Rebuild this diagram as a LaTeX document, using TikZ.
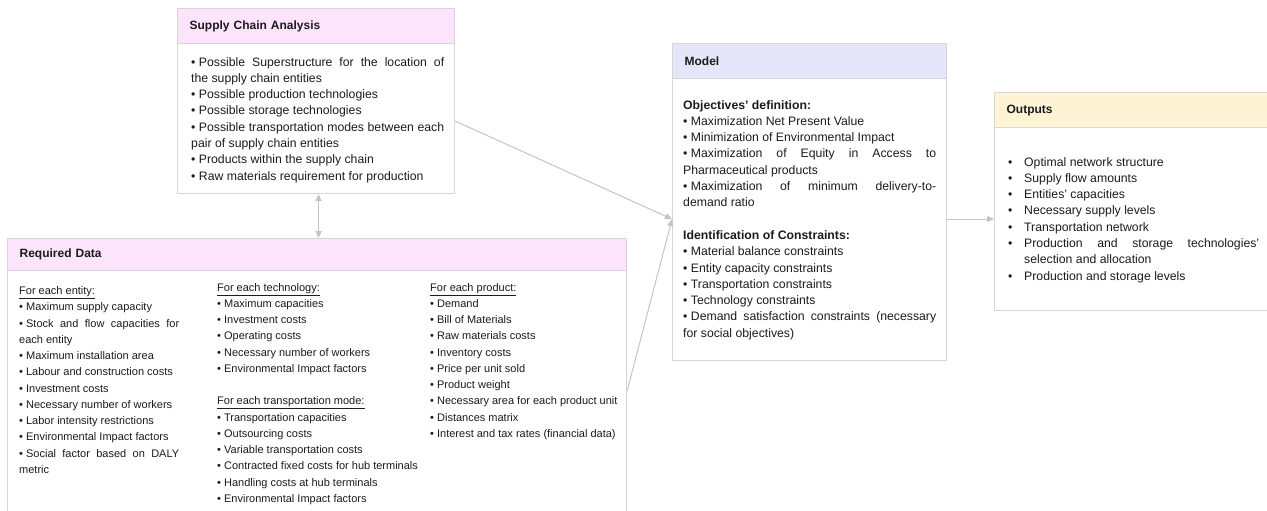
\documentclass[tikz,border=0pt]{standalone}
\usepackage{fontspec}
\setmainfont{Liberation Sans}
\usetikzlibrary{arrows.meta,calc}

\definecolor{boxline}{RGB}{214,214,214}
\definecolor{linkgray}{RGB}{196,196,196}
\definecolor{headpink}{RGB}{252,229,252}
\definecolor{headlav}{RGB}{230,230,250}
\definecolor{headcream}{RGB}{254,243,212}
\definecolor{ink}{RGB}{28,28,28}

\newcommand{\bu}{•\hspace{0.28em}}
\newcommand{\outitem}[1]{\hangindent=16pt\hangafter=1\noindent\makebox[16pt][l]{•}#1\par}
\newcommand{\gapline}{\par\vspace{16.3pt}}
\newcommand{\parsetup}{\parindent=0pt\hyphenpenalty=10000\tolerance=9999\relax}

\begin{document}
\begin{tikzpicture}[
    x=1pt, y=-1pt, >={Triangle[length=7pt,width=6pt]}, line cap=round,
    frame/.style  ={draw=boxline, line width=1.2pt, fill=white, inner sep=0pt, anchor=north west},
    head/.style   ={draw=boxline, line width=1.2pt, anchor=north west, inner xsep=12pt, inner ysep=0pt, minimum height=35pt, align=left, text=ink, font=\fontsize{12}{14}\selectfont\bfseries},
    body/.style   ={anchor=north west, inner sep=0pt, align=justify, text=ink, font={\fontsize{12.25}{16.3}\selectfont\parsetup}},
    colbody/.style={body, font={\fontsize{11}{16.25}\selectfont\parsetup}},
    link/.style   ={draw=linkgray, line width=1pt}
]
\useasboundingbox (0,0) rectangle (1267,511);
\clip (0,0) rectangle (1267,511);

% Supply Chain Analysis (top)
\node[frame, minimum width=277pt, minimum height=185pt] (sca) at (177,8) {};
\node[head, fill=headpink, text width=253pt] (sca-head) at (sca.north west) {Supply Chain Analysis};
\node[body, text width=253pt] (sca-text) at (191,57) {%
\bu Possible Superstructure for the location of\linebreak the supply chain entities\par
\bu Possible production technologies\par
\bu Possible storage technologies\par
\bu Possible transportation modes between each pair of supply chain entities\par
\bu Products within the supply chain\par
\bu Raw materials requirement for production};

% Required Data (bottom, runs off the page)
\node[frame, minimum width=619pt, minimum height=304pt] (rd) at (7,238) {};
\node[head, fill=headpink, text width=595pt, minimum height=32pt] (rd-head) at (rd.north west) {Required Data};
\node[colbody, text width=160pt] (rd-entity) at (19,286.5) {%
\underline{For each entity:}\par
\bu Maximum supply capacity\par
\bu Stock and flow capacities for each entity\par
\bu Maximum installation area\par
\bu Labour and construction costs\par
\bu Investment costs\par
\bu Necessary number of workers\par
\bu Labor intensity restrictions\par
\bu Environmental Impact factors\par
\bu Social factor based on DALY metric};
\node[colbody, text width=205pt] (rd-tech) at (217,283) {%
\underline{For each technology:}\par
\bu Maximum capacities\par
\bu Investment costs\par
\bu Operating costs\par
\bu Necessary number of workers\par
\bu Environmental Impact factors\gapline
\underline{For each transportation mode:}\par
\bu Transportation capacities\par
\bu Outsourcing costs\par
\bu Variable transportation costs\par
\bu Contracted fixed costs for hub terminals\par
\bu Handling costs at hub terminals\par
\bu Environmental Impact factors};
\node[colbody, text width=192pt] (rd-prod) at (430,283) {%
\underline{For each product:}\par
\bu Demand\par
\bu Bill of Materials\par
\bu Raw materials costs\par
\bu Inventory costs\par
\bu Price per unit sold\par
\bu Product weight\par
\bu Necessary area for each product unit\par
\bu Distances matrix\par
\bu Interest and tax rates (financial data)};

% Model (middle)
\node[frame, minimum width=274pt, minimum height=317pt] (model) at (672,43) {};
\node[head, fill=headlav, text width=250pt] (model-head) at (model.north west) {Model};
\node[body, text width=253pt] (model-text) at (683,100) {%
\textbf{Objectives’ definition:}\par
\bu Maximization Net Present Value\par
\bu Minimization of Environmental Impact\par
\bu Maximization of Equity in Access to Pharmaceutical products\par
\bu Maximization of minimum delivery-to-\linebreak demand ratio\gapline
\textbf{Identification of Constraints:}\par
\bu Material balance constraints\par
\bu Entity capacity constraints\par
\bu Transportation constraints\par
\bu Technology constraints\par
\bu Demand satisfaction constraints (necessary for social objectives)};

% Outputs (right, runs off the page)
\node[frame, minimum width=290pt, minimum height=218pt] (outputs) at (994,92) {};
\node[head, fill=headcream, text width=266pt] (outputs-head) at (outputs.north west) {Outputs};
\node[body, text width=251pt] (outputs-text) at (1008,157) {%
\outitem{Optimal network structure}
\outitem{Supply flow amounts}
\outitem{Entities’ capacities}
\outitem{Necessary supply levels}
\outitem{Transportation network}
\outitem{Production and storage technologies’ selection and allocation}
\outitem{Production and storage levels}};

% connectors
\coordinate (sca-down)  at ([xshift=2.5pt]sca.south);
\coordinate (sca-out)   at ($(sca.east)+(0,20)$);
\coordinate (model-in)  at ($(model.west)+(0,17)$);
\coordinate (model-out) at ($(model.east)+(0,17)$);
\draw[link, <->] (sca-down) -- (sca-down |- rd.north);
\draw[link, ->] (sca-out) -- (model-in);
\draw[link, ->] (rd.east) -- (model-in);
\draw[link, ->] (model-out) -- (model-out -| outputs.west);
\end{tikzpicture}
\end{document}
